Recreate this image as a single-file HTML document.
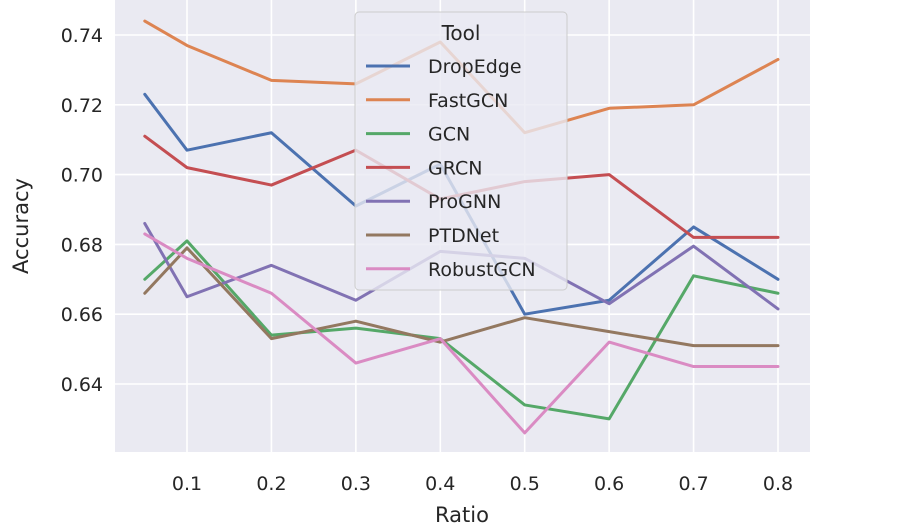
<!DOCTYPE html>
<html><head><meta charset="utf-8"><style>
body{margin:0;background:#fff;}
svg{display:block;font-family:"DejaVu Sans","Liberation Sans",sans-serif;}
</style></head><body>
<svg id="chart" width="900" height="528"></svg>
<script>
const ratios=[0.05,0.1,0.2,0.3,0.4,0.5,0.6,0.7,0.8];
const seriesNames=["DropEdge","FastGCN","GCN","GRCN","ProGNN","PTDNet","RobustGCN"];
const colors=["#4c72b0","#dd8452","#55a868","#c44e52","#8172b3","#937860","#da8bc3"];
const dropEdge=[0.723,0.707,0.712,0.691,0.703,0.660,0.664,0.685,0.670];
const fastGCN=[0.744,0.737,0.727,0.726,0.738,0.712,0.719,0.720,0.733];
const gcn=[0.670,0.681,0.654,0.656,0.653,0.634,0.630,0.671,0.666];
const grcn=[0.711,0.702,0.697,0.707,0.693,0.698,0.700,0.682,0.682];
const proGNN=[0.686,0.665,0.674,0.664,0.678,0.676,0.663,0.6795,0.6615];
const ptdNet=[0.666,0.679,0.653,0.658,0.652,0.659,0.655,0.651,0.651];
const robustGCN=[0.683,0.676,0.666,0.646,0.653,0.626,0.652,0.645,0.645];
const xTicks=[0.1,0.2,0.3,0.4,0.5,0.6,0.7,0.8];
const yTicks=[0.64,0.66,0.68,0.70,0.72,0.74];

const allSeries=[dropEdge,fastGCN,gcn,grcn,proGNN,ptdNet,robustGCN];
const NS="http://www.w3.org/2000/svg";
const svg=document.getElementById('chart');
const L=115,R=810,T=0,B=452;
const xS=v=>187+(v-0.1)*(778-187)/0.7;
const yS=v=>35+(0.74-v)*(384-35)/0.10;
function mk(tag,attrs,parent){const e=document.createElementNS(NS,tag);for(const k in attrs)e.setAttribute(k,attrs[k]);(parent||svg).appendChild(e);return e;}
const bg=mk('rect',{x:L,y:T,width:R-L,height:B-T,fill:'#eaeaf2'});


xTicks.forEach(t=>{
  const g=mk('line',{x1:xS(t),x2:xS(t),y1:T,y2:B,stroke:'#fff','stroke-width':1.6});
  
  
  const lb=mk('text',{x:xS(t),y:490,'text-anchor':'middle','font-size':19,fill:'#262626'});
  lb.textContent=t.toFixed(1);
  
  
});
yTicks.forEach(t=>{
  const g=mk('line',{x1:L,x2:R,y1:yS(t),y2:yS(t),stroke:'#fff','stroke-width':1.6});
  
  
  const lb=mk('text',{x:103,y:yS(t)+7,'text-anchor':'end','font-size':19,fill:'#262626'});
  lb.textContent=t.toFixed(2);
  
  
});
allSeries.forEach((s,i)=>{
  const p=mk('polyline',{points:s.map((v,j)=>xS(ratios[j])+','+yS(v)).join(' '),fill:'none',stroke:colors[i],'stroke-width':3,'stroke-linejoin':'round','stroke-linecap':'round'});
  
  
});
const xt=mk('text',{x:462,y:522,'text-anchor':'middle','font-size':21,fill:'#262626'});
xt.textContent='Ratio';


const yt=mk('text',{x:28,y:226,'text-anchor':'middle','font-size':21,fill:'#262626',transform:'rotate(-90 28 226)'});
yt.textContent='Accuracy';


const lg=mk('g',{});


mk('rect',{x:355,y:12,width:212,height:278,rx:4,fill:'#eaeaf2','fill-opacity':0.8,stroke:'#cccccc','stroke-width':1},lg);
const ttl=mk('text',{x:461,y:40,'text-anchor':'middle','font-size':20,fill:'#262626'},lg);
ttl.textContent='Tool';


seriesNames.forEach((n,i)=>{
  const y=66+i*33.8;
  const ln=mk('line',{x1:366,x2:410,y1:y,y2:y,stroke:colors[i],'stroke-width':3},lg);
  
  
  const tx=mk('text',{x:428,y:y+7,'font-size':19,fill:'#262626'},lg);
  tx.textContent=n;
  
  
});
</script>
</body></html>
